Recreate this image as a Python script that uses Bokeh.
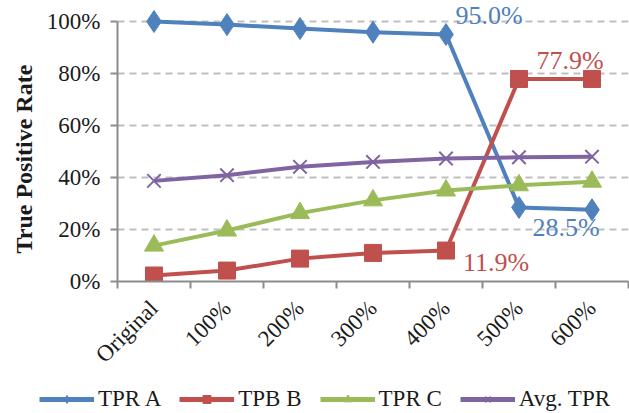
import numpy as np
from bokeh.plotting import figure
from bokeh.layouts import column
from bokeh.models import (FixedTicker, Legend, LegendItem, Label, Title,
                          PrintfTickFormatter, CustomJSTickFormatter, Range1d)
from bokeh.embed import file_html
from bokeh.resources import INLINE

categories = ["Original", "100%", "200%", "300%", "400%", "500%", "600%"]
tpr_a = [100.0, 98.8, 97.3, 95.9, 95.0, 28.5, 27.6]
tpr_b = [2.3, 4.2, 8.8, 11.0, 11.9, 77.9, 77.9]
tpr_c = [13.8, 19.6, 26.3, 31.2, 35.0, 37.0, 38.4]
avg_tpr = [38.7, 40.9, 44.1, 46.0, 47.3, 47.8, 48.0]
series_names = ["TPR A", "TPB B", "TPR C", "Avg. TPR"]
y_ticks = [0, 20, 40, 60, 80, 100]
y_title = "True Positive Rate"

FONT = "Liberation Serif"
BLUE = "#4F81BD"
RED = "#C0504D"
GREEN = "#9BBB59"
PURPLE = "#8064A2"
AXIS = "#8C8C8C"
TXT = "#1a1a1a"

x = np.arange(len(categories)) + 0.5

# frame: top at 0px, 100% at 21px, 0% at 281px
frame_top_px, y100_px, y0_px = 0, 21, 281
y_max = 100 * (y0_px - frame_top_px) / (y0_px - y100_px)

PLOT_H = 383
p = figure(width=629, height=PLOT_H, output_backend="svg", toolbar_location=None,
           x_range=Range1d(0, len(categories)), y_range=Range1d(0, y_max),
           min_border_left=117, min_border_right=1, min_border_top=0,
           min_border_bottom=PLOT_H - y0_px)
p.outline_line_color = None
p.frame_align = False

# y axis
p.yaxis.ticker = FixedTicker(ticks=y_ticks)
p.yaxis.bounds = (0, 100)
p.yaxis.formatter = PrintfTickFormatter(format="%d%%")
p.yaxis.major_label_text_font = FONT
p.yaxis.major_label_text_font_size = "23px"
p.yaxis.major_label_text_color = TXT
p.yaxis.major_label_standoff = 10
p.yaxis.axis_line_color = AXIS
p.yaxis.axis_line_width = 2
p.yaxis.major_tick_line_color = AXIS
p.yaxis.major_tick_line_width = 2
p.yaxis.major_tick_out = 7
p.yaxis.major_tick_in = 0
p.yaxis.minor_tick_line_color = None

# y axis title, placed in the left panel so it can sit over the 0-100% span
p.add_layout(Title(text=y_title, align="left", offset=28, standoff=13,
                   text_font=FONT, text_font_style="bold",
                   text_font_size="24px", text_color=TXT), "left")

# x axis: labels at category centers, ticks at boundaries
p.xaxis.ticker = FixedTicker(ticks=list(x), minor_ticks=list(range(len(categories) + 1)))
p.xaxis.formatter = CustomJSTickFormatter(args=dict(labels=categories),
                                          code="return labels[Math.round(tick - 0.5)];")
p.xaxis.major_label_orientation = np.pi / 4
p.xaxis.major_label_text_font = FONT
p.xaxis.major_label_text_font_size = "23px"
p.xaxis.major_label_text_color = TXT
p.xaxis.major_label_standoff = 16
p.xaxis.axis_line_color = AXIS
p.xaxis.axis_line_width = 2
p.xaxis.major_tick_line_color = None
p.xaxis.minor_tick_line_color = AXIS
p.xaxis.minor_tick_line_width = 2
p.xaxis.minor_tick_out = 7
p.xaxis.minor_tick_in = 0

# grid
p.xgrid.grid_line_color = None
p.ygrid.ticker = FixedTicker(ticks=y_ticks[1:])
p.ygrid.grid_line_color = "#BFBFBF"
p.ygrid.grid_line_width = 2
p.ygrid.grid_line_dash = "7 5"

LW = 4
styles = [
    (tpr_a, BLUE, dict(marker="diamond", size=22, color=BLUE)),
    (tpr_b, RED, dict(marker="square", size=17, color=RED)),
    (tpr_c, GREEN, dict(marker="triangle", size=19, color=GREEN)),
    (avg_tpr, PURPLE, dict(marker="x", size=19, line_color=PURPLE, line_width=2)),
]
for vals, col, mk in styles:
    p.line(x, vals, color=col, line_width=LW)
    p.scatter(x, vals, **mk)

# data labels
def add_label(i, series, color, dx, dy):
    p.add_layout(Label(x=x[i], y=series[i], x_offset=dx, y_offset=dy,
                       text="%.1f%%" % series[i], text_color=color,
                       text_font=FONT, text_font_size="26px",
                       text_align="center", text_baseline="middle"))

add_label(4, tpr_a, BLUE, 43, 19)
add_label(5, tpr_b, RED, 51, 18)
add_label(5, tpr_a, BLUE, 47, -20)
add_label(4, tpr_b, RED, 50, -12)

# legend strip as its own small figure (legend samples only; series hidden)
LEG_H = 413 - PLOT_H
p2 = figure(width=629, height=LEG_H, output_backend="svg", toolbar_location=None,
            x_range=Range1d(0, 629), y_range=Range1d(0, LEG_H),
            x_axis_type=None, y_axis_type=None, min_border=0)
p2.outline_line_color = None
p2.frame_align = False
p2.grid.visible = False
items = []
for name, (vals, col, mk) in zip(series_names, styles):
    mk2 = dict(mk)
    mk2["size"] = 11
    r1 = p2.line(x, vals, color=col, line_width=5, visible=False)
    r2 = p2.scatter(x, vals, visible=False, **mk2)
    items.append(LegendItem(label=name, renderers=[r1, r2]))
legend = Legend(items=items, orientation="horizontal", location=(39, 1))
legend.label_text_font = FONT
legend.label_text_font_size = "23px"
legend.label_text_color = TXT
legend.glyph_width = 55
legend.glyph_height = 20
legend.label_standoff = 4
legend.spacing = 18
legend.padding = 4
legend.margin = 0
legend.border_line_color = None
legend.background_fill_alpha = 0
legend.inactive_fill_alpha = 0
p2.add_layout(legend, "center")

layout = column(p, p2, spacing=0)
open("out.html", "w").write(file_html(layout, INLINE))
